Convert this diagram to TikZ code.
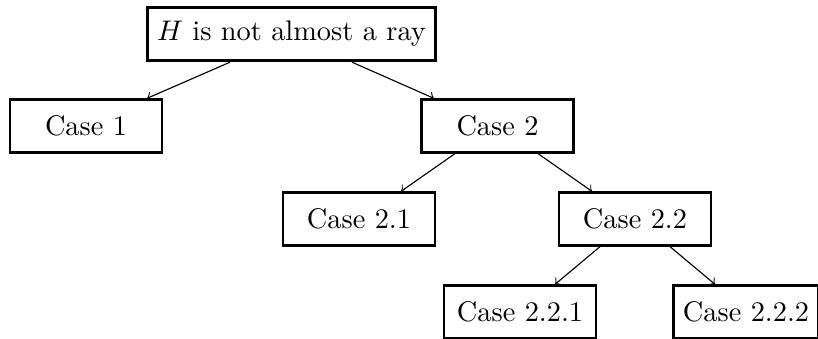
\documentclass[tikz,border=0pt]{standalone}
\usetikzlibrary{calc}
\begin{document}
\begin{tikzpicture}[x=0.3528pt,y=-0.3528pt,
  casebox/.style={draw,line width=1pt,minimum width=53.6pt,minimum height=18.5pt,inner xsep=3.33pt,inner ysep=0pt},
  edge/.style={->,line width=0.4pt,shorten >=0pt}]
\useasboundingbox (0,0) rectangle (818,339);
\node[casebox,minimum height=18.9pt] (root) at (291.5,34) {$H$ is not almost a ray};
\node[casebox] (c1) at (86,126) {Case 1};
\node[casebox] (c2) at (497.5,126) {Case 2};
\node[casebox] (c21) at (359,219) {Case 2.1};
\node[casebox] (c22) at (635,219) {Case 2.2};
\node[casebox] (c221) at (520,312) {Case 2.2.1};
\node[casebox,minimum width=49pt] (c222) at (746,312) {Case 2.2.2};
\draw[edge] ($(root.south)+(-61.5,0)$) -- ($(c1.north)+(61,0)$);
\draw[edge] ($(root.south)+(60.5,0)$) -- ($(c2.north)+(-63.5,0)$);
\draw[edge] ($(c2.south)+(-42.5,0)$) -- ($(c21.north)+(42,0)$);
\draw[edge] ($(c2.south)+(40.5,0)$) -- ($(c22.north)+(-43,0)$);
\draw[edge] ($(c22.south)+(-35,0)$) -- ($(c221.north)+(35,0)$);
\draw[edge] ($(c22.south)+(35,0)$) -- ($(c222.north)+(-31,0)$);
\end{tikzpicture}
\end{document}
